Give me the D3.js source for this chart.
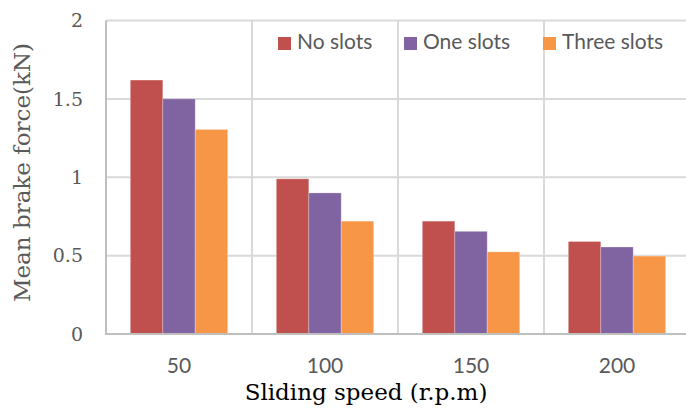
<!DOCTYPE html>
<html>
<head>
<meta charset="utf-8">
<script src="https://cdn.jsdelivr.net/npm/d3@7"></script>
<style>
  body { margin: 0; background: #fff; }
  svg { display: block; }
</style>
</head>
<body>
<div id="container"></div>
<script>
/* DATA */
const speeds = ["50", "100", "150", "200"];
const seriesNames = ["No slots", "One slots", "Three slots"];
const noSlots = [1.62, 0.99, 0.72, 0.59];
const oneSlots = [1.50, 0.90, 0.655, 0.555];
const threeSlots = [1.305, 0.72, 0.524, 0.497];
const yTicks = [0, 0.5, 1, 1.5, 2];
const colors = ["#C0504D", "#8064A2", "#F79646"];

const width = 686,
      height = 408;
const plotLeft = 106, plotRight = 690, plotTop = 20.5, plotBottom = 334;

const rows = speeds.map((s, i) => ({
  speed: s,
  "No slots": noSlots[i],
  "One slots": oneSlots[i],
  "Three slots": threeSlots[i]
}));

const svg = d3.select("#container")
  .append("svg")
  .attr("width", width)
  .attr("height", height);

/* SCALES */
const xScale = d3.scaleBand()
  .domain(speeds)
  .range([plotLeft, plotRight]);

const bw = xScale.bandwidth();
const gap = bw * 1.5 / 4.5;   // excel gap width 150%
const xInner = d3.scaleBand()
  .domain(seriesNames)
  .range([gap / 2, bw - gap / 2]);

const yScale = d3.scaleLinear()
  .domain([0, 2])
  .range([plotBottom, plotTop]);

const colorScale = d3.scaleOrdinal()
  .domain(seriesNames)
  .range(colors);

// horizontal gridlines
svg.append("g")
  .selectAll("line")
  .data(yTicks.filter(d => d > 0))
  .join("line")
  .attr("x1", plotLeft)
  .attr("x2", plotRight)
  .attr("y1", d => yScale(d))
  .attr("y2", d => yScale(d))
  .attr("stroke", "#d9d9d9")
  .attr("stroke-width", 2);

// category separators
svg.append("g")
  .selectAll("line")
  .data(speeds.slice(1))
  .join("line")
  .attr("x1", d => xScale(d))
  .attr("x2", d => xScale(d))
  .attr("y1", plotTop)
  .attr("y2", plotBottom)
  .attr("stroke", "#d9d9d9")
  .attr("stroke-width", 2);

// bars
svg.append("g")
  .selectAll("g")
  .data(rows)
  .join("g")
  .attr("transform", d => `translate(${xScale(d.speed)},0)`)
  .selectAll("rect")
  .data(d => seriesNames.map(k => ({ key: k, value: d[k] })))
  .join("rect")
  .attr("x", d => xInner(d.key))
  .attr("width", xInner.bandwidth())
  .attr("y", d => yScale(d.value))
  .attr("height", d => yScale(0) - yScale(d.value))
  .attr("fill", d => colorScale(d.key))
  .attr("stroke", "rgba(255,255,255,0.25)")
  .attr("stroke-width", 1);

// axis lines
svg.append("line")
  .attr("x1", plotLeft).attr("x2", plotLeft)
  .attr("y1", plotTop).attr("y2", plotBottom)
  .attr("stroke", "#bfbfbf").attr("stroke-width", 2);
svg.append("line")
  .attr("x1", plotLeft - 1).attr("x2", plotRight)
  .attr("y1", plotBottom).attr("y2", plotBottom)
  .attr("stroke", "#bfbfbf").attr("stroke-width", 2);

// y tick labels
svg.append("g")
  .selectAll("text")
  .data(yTicks)
  .join("text")
  .attr("x", 83)
  .attr("y", d => yScale(d))
  .attr("dy", "0.35em")
  .attr("text-anchor", "end")
  .attr("font-family", "'DejaVu Serif', serif")
  .attr("font-size", 19)
  .attr("fill", "#595959")
  .text(d => d);

// x tick labels
svg.append("g")
  .selectAll("text")
  .data(speeds)
  .join("text")
  .attr("x", d => xScale(d) + bw / 2)
  .attr("y", 373)
  .attr("text-anchor", "middle")
  .attr("font-family", "Lato, sans-serif")
  .attr("font-size", 21)
  .attr("fill", "#595959")
  .text(d => d);

// axis titles
svg.append("text")
  .attr("x", 366)
  .attr("y", 400)
  .attr("text-anchor", "middle")
  .attr("font-family", "'DejaVu Serif', serif")
  .attr("font-size", 23)
  .attr("fill", "#000")
  .text("Sliding speed (r.p.m)");

svg.append("text")
  .attr("transform", "translate(30,172.5) rotate(-90)")
  .attr("text-anchor", "middle")
  .attr("font-family", "'DejaVu Serif', serif")
  .attr("font-size", 23)
  .attr("fill", "#595959")
  .text("Mean brake force(kN)");

// legend
const legendX = [278, 404, 543];
const legend = svg.append("g")
  .selectAll("g")
  .data(seriesNames)
  .join("g")
  .attr("transform", (d, i) => `translate(${legendX[i]},37)`);
legend.append("rect")
  .attr("width", 13)
  .attr("height", 13)
  .attr("fill", d => colorScale(d));
legend.append("text")
  .attr("x", 19)
  .attr("y", 12)
  .attr("font-family", "Lato, sans-serif")
  .attr("font-size", 21)
  .attr("fill", "#595959")
  .text(d => d);
</script>
</body>
</html>
